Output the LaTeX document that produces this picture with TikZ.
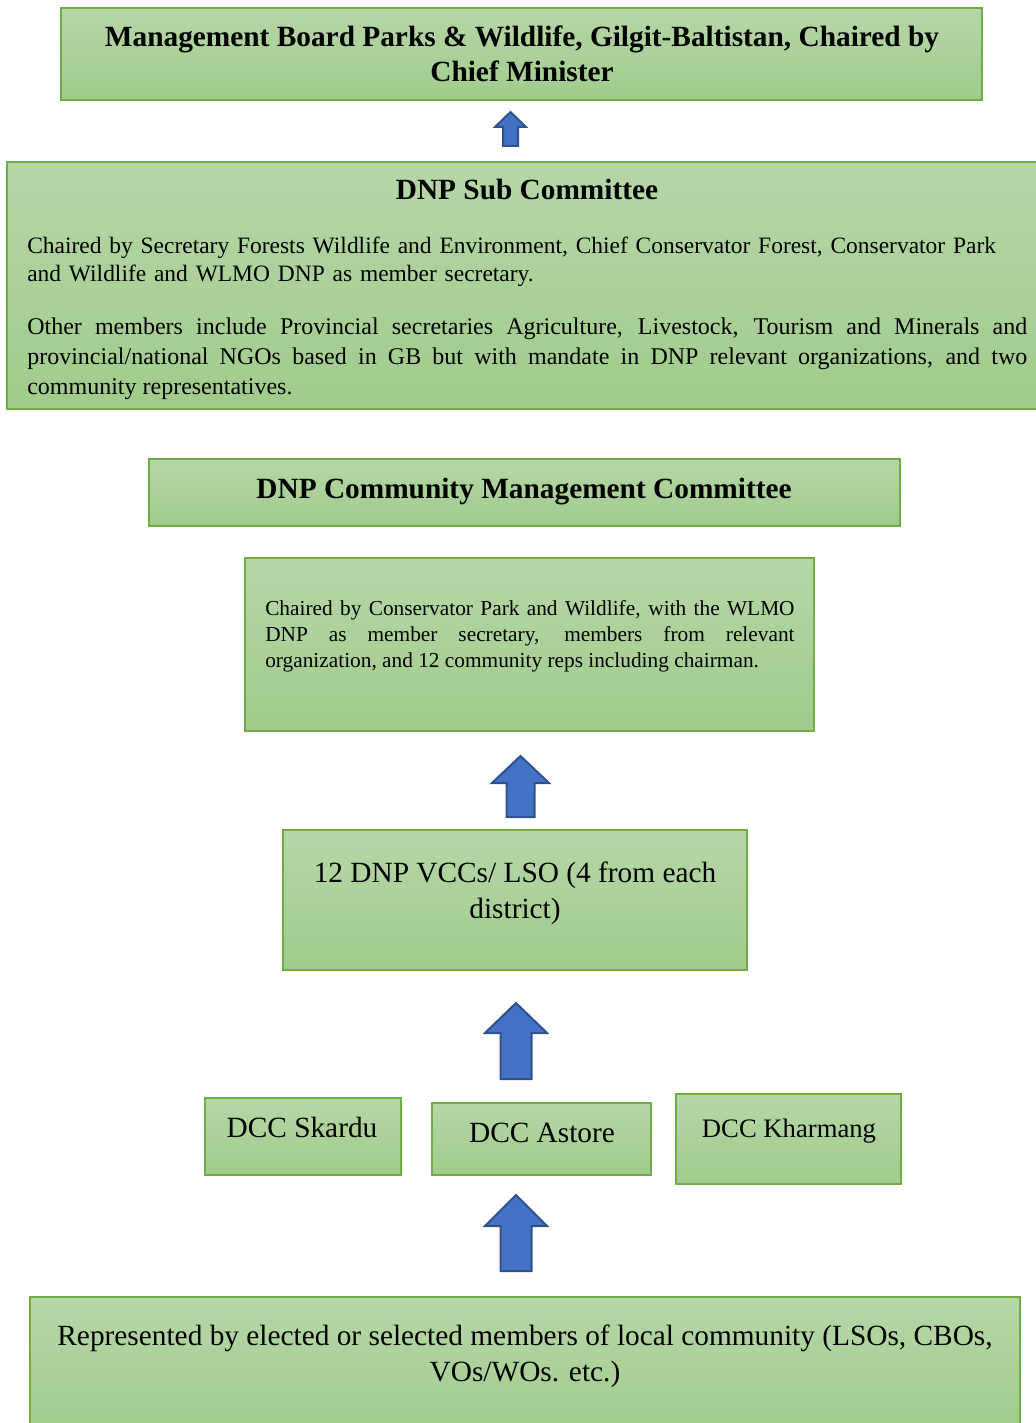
\documentclass[tikz,border=0pt]{standalone}
\usepackage{fontspec}
\setmainfont{Liberation Serif}
\usetikzlibrary{positioning, fit}

\definecolor{paneltop}{RGB}{182,214,167}
\definecolor{panelbottom}{RGB}{160,203,139}
\definecolor{panelline}{RGB}{112,173,71}
\definecolor{arrowfill}{RGB}{68,114,196}
\definecolor{arrowline}{RGB}{47,82,143}

\begin{document}
\begin{tikzpicture}[x=0.75pt, y=-0.75pt,
  panel/.style={draw=panelline, line width=1.2pt, top color=paneltop, bottom color=panelbottom, inner sep=0pt},
  heading/.style={font=\bfseries\fontsize{22}{26.25}\selectfont, align=center, inner sep=0pt},
  bigtext/.style={font=\fontsize{22}{27}\selectfont, align=center, inner sep=0pt},
  bodytext/.style={font=\fontsize{17.6}{21}\selectfont, inner sep=0pt, anchor=north west},
  uparrow/.style={draw=arrowline, fill=arrowfill, line width=1.5pt, line join=miter}]

\useasboundingbox (0,0) rectangle (1035,1423);

% boxes
\node[panel, fit={(61,8) (982,100)}] (board) {};
\node[panel, fit={(7,162) (1040,409)}] (subcom) {};
\node[panel, fit={(149,459) (900,526)}] (cmc) {};
\node[panel, fit={(245,558) (814,731)}] (chair) {};
\node[panel, fit={(283,830) (747,970)}] (vcc) {};
\node[panel, fit={(205,1098) (401,1175)}] (skardu) {};
\node[panel, fit={(432,1103) (651,1175)}] (astore) {};
\node[panel, fit={(676,1094) (901,1184)}] (kharmang) {};
\node[panel, fit={(30,1297) (1020,1440)}] (local) {};

% texts
\node[heading] (boardtext) at (522,54) {Management Board Parks \& Wildlife, Gilgit-Baltistan, Chaired by\\Chief Minister};
\node[heading] (subtitle) at (527,190) {DNP Sub Committee};
\node[bodytext, text width=750pt, align=left] (subone) at (27,237)
  {Chaired by Secretary Forests Wildlife and Environment, Chief Conservator Forest, Conservator Park\\and Wildlife and WLMO DNP as member secretary.};
\node[bodytext, text width=750pt, align=justify, font=\fontsize{18}{22.5}\selectfont] (subtwo) at (27,318)
  {Other members include Provincial secretaries Agriculture, Livestock, Tourism and Minerals and\linebreak provincial/national NGOs based in GB but with mandate in DNP relevant organizations, and two\linebreak community representatives.};
\node[heading] (cmctext) at (524,492) {DNP Community Management Committee};
\node[bodytext, text width=397pt, align=justify, font=\fontsize{16}{19.5}\selectfont] (chairtext) at (265,600)
  {Chaired by Conservator Park and Wildlife, with the WLMO\linebreak DNP as member secretary, members from relevant\linebreak organization, and 12 community reps including chairman.};
\node[bigtext] (vcctext) at (515,893) {12 DNP VCCs/ LSO (4 from each\\district)};
\node[bigtext] (skardutext) at (302,1127) {DCC Skardu};
\node[bigtext] (astoretext) at (542,1133) {DCC Astore};
\node[bigtext, font=\fontsize{20}{24}\selectfont] (kharmangtext) at (789,1131) {DCC Kharmang};
\node[bigtext] (localtext) at (525,1356) {Represented by elected or selected members of local community (LSOs, CBOs,\\VOs/WOs. etc.)};

% block arrows
\foreach \cx/\tip/\neck/\foot/\head/\shaft in {510.5/112/127/146/15.5/7.5, 520.5/756/783/817/28.5/14, 516/1003/1033/1079/31/15.5, 516/1195/1226/1271/31/15.5}
  \draw[uparrow] (\cx,\tip) -- (\cx+\head,\neck) -- (\cx+\shaft,\neck) -- (\cx+\shaft,\foot)
    -- (\cx-\shaft,\foot) -- (\cx-\shaft,\neck) -- (\cx-\head,\neck) -- cycle;

\end{tikzpicture}
\end{document}
